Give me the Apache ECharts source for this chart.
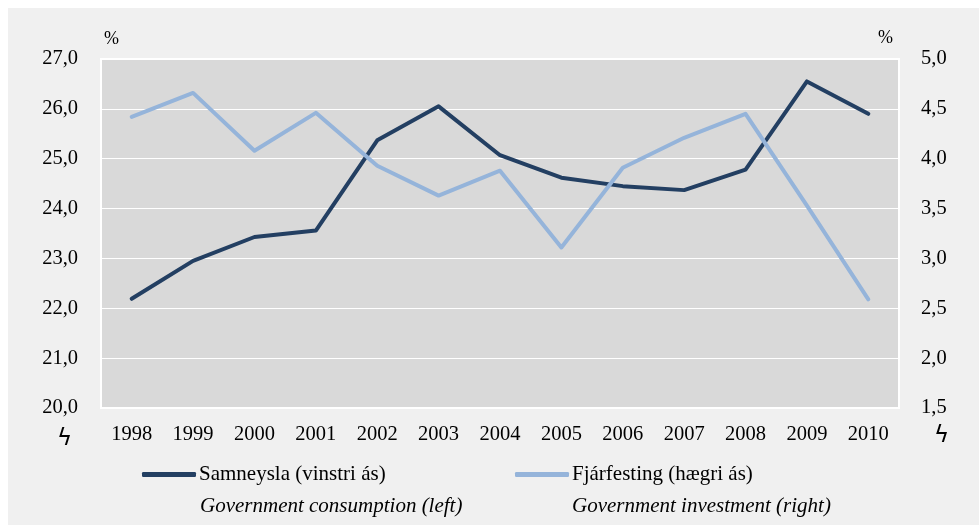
<!DOCTYPE html>
<html>
<head>
<meta charset="utf-8">
<script src="https://cdn.jsdelivr.net/npm/echarts@6/dist/echarts.min.js"></script>
<style>
html,body{margin:0;padding:0;background:#ffffff;}
#chart{width:979px;height:530px;}
</style>
</head>
<body>
<div id="chart"></div>
<script>
const years = ['1998','1999','2000','2001','2002','2003','2004','2005','2006','2007','2008','2009','2010'];
const consumption = [22.19, 22.95, 23.43, 23.56, 25.37, 26.05, 25.07, 24.62, 24.45, 24.37, 24.78, 26.55, 25.90];
const investment = [4.42, 4.66, 4.08, 4.46, 3.93, 3.63, 3.88, 3.11, 3.91, 4.21, 4.45, 3.53, 2.59];
const seriesNames = ['Samneysla (vinstri ás)', 'Fjárfesting (hægri ás)'];
const seriesNamesEn = ['Government consumption (left)', 'Government investment (right)'];

const FONT = '"Liberation Serif", "Times New Roman", serif';
const fmt = v => v.toFixed(1).replace('.', ',');

const legendBase = {
  top: 464,
  padding: 0,
  itemWidth: 54,
  itemHeight: 5,
  icon: 'roundRect',
  textStyle: {fontFamily: FONT, fontSize: 21, color: '#000', padding: [0,0,0,-2]}
};

const chart = echarts.init(document.getElementById('chart'), null, {renderer: 'canvas'});
chart.setOption({
  animation: false,
  backgroundColor: '#ffffff',
  textStyle: {fontFamily: FONT, color: '#000'},
  graphic: [
    {type: 'rect', z: -10, shape: {x: 8, y: 8, width: 971, height: 517}, style: {fill: '#f0f0f0'}},
    {type: 'text', left: 104, top: 30, style: {text: '%', font: '18px ' + FONT, fill: '#000'}},
    {type: 'text', left: 878, top: 29, style: {text: '%', font: '18px ' + FONT, fill: '#000'}},
    {type: 'text', left: 57, top: 428, style: {text: 'ϟ', font: '23px "DejaVu Sans"', fill: '#000'}},
    {type: 'text', left: 934, top: 425, style: {text: 'ϟ', font: '23px "DejaVu Sans"', fill: '#000'}},
    {type: 'text', left: 200, top: 496, style: {text: seriesNamesEn[0], font: 'italic 21px ' + FONT, fill: '#000'}},
    {type: 'text', left: 572, top: 496, style: {text: seriesNamesEn[1], font: 'italic 21px ' + FONT, fill: '#000'}}
  ],
  legend: [
    Object.assign({left: 142, data: [seriesNames[0]]}, legendBase),
    Object.assign({left: 515, data: [seriesNames[1]]}, legendBase)
  ],
  grid: {
    left: 101, right: 80, top: 59, bottom: 122,
    show: true, backgroundColor: '#d9d9d9', borderColor: '#ffffff', borderWidth: 2
  },
  xAxis: {
    type: 'category',
    data: years,
    boundaryGap: true,
    axisLine: {show: false},
    axisTick: {show: false},
    axisLabel: {fontFamily: FONT, fontSize: 20.5, color: '#000', margin: 16},
    splitLine: {show: false}
  },
  yAxis: [
    {
      type: 'value', min: 20, max: 27, interval: 1, position: 'left',
      axisLine: {show: false}, axisTick: {show: false},
      axisLabel: {fontFamily: FONT, fontSize: 20.5, color: '#000', margin: 23, formatter: fmt},
      splitLine: {show: true, lineStyle: {color: '#ffffff', width: 1}}
    },
    {
      type: 'value', min: 1.5, max: 5, interval: 0.5, position: 'right',
      axisLine: {show: false}, axisTick: {show: false},
      axisLabel: {fontFamily: FONT, fontSize: 20.5, color: '#000', margin: 22, formatter: fmt},
      splitLine: {show: false}
    }
  ],
  series: [
    {
      name: seriesNames[0], type: 'line', yAxisIndex: 0, data: consumption,
      showSymbol: false, symbol: 'none',
      lineStyle: {color: '#233f62', width: 4, cap: 'round', join: 'round'},
      itemStyle: {color: '#233f62'}
    },
    {
      name: seriesNames[1], type: 'line', yAxisIndex: 1, data: investment,
      showSymbol: false, symbol: 'none',
      lineStyle: {color: '#95b4da', width: 4, cap: 'round', join: 'round'},
      itemStyle: {color: '#95b4da'}
    }
  ]
});
</script>
</body>
</html>
